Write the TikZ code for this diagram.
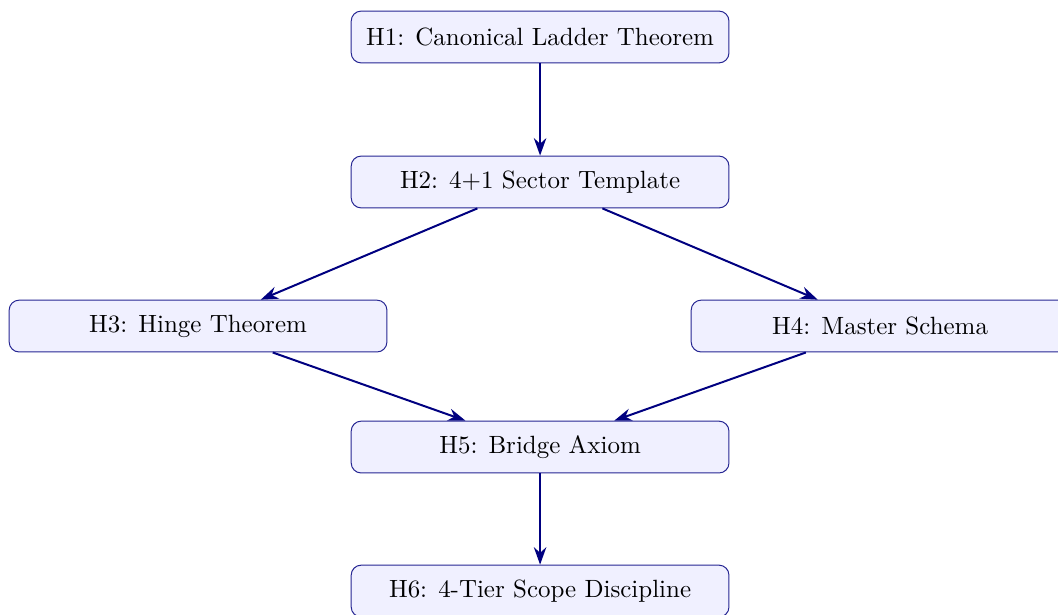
\documentclass[tikz,border=0pt]{standalone}
\usepackage{tikz}
\usetikzlibrary{arrows.meta}

\begin{document}
\begin{tikzpicture}[
    hypbox/.style={draw=blue!50!black!85, fill=blue!6, rounded corners=4pt,
                   minimum width=5.32cm, minimum height=0.73cm, font=\normalsize},
    linkarrow/.style={-{Stealth[length=7pt,width=5pt]}, thick, color=blue!50!black}
]
    % Marco del dibujo
    \useasboundingbox (0,0) rectangle (14.90,-8.66);

    % Nodos de las hipotesis
    \node[hypbox] (h1) at (7.606,-0.521) {H1: Canonical Ladder Theorem};
    \node[hypbox] (h2) at (7.606,-2.563) {H2: 4+1 Sector Template};
    \node[hypbox] (h3) at (2.789,-4.592) {H3: Hinge Theorem};
    \node[hypbox] (h4) at (12.394,-4.592) {H4: Master Schema};
    \node[hypbox] (h5) at (7.606,-6.296) {H5: Bridge Axiom};
    \node[hypbox] (h6) at (7.606,-8.324) {H6: 4-Tier Scope Discipline};

    % Flechas entre las hipotesis
    \draw[linkarrow] (h1) -- (h2);
    \draw[linkarrow] (h2) -- (h3);
    \draw[linkarrow] (h2) -- (h4);
    \draw[linkarrow] (h3) -- (h5);
    \draw[linkarrow] (h4) -- (h5);
    \draw[linkarrow] (h5) -- (h6);

\end{tikzpicture}
\end{document}
